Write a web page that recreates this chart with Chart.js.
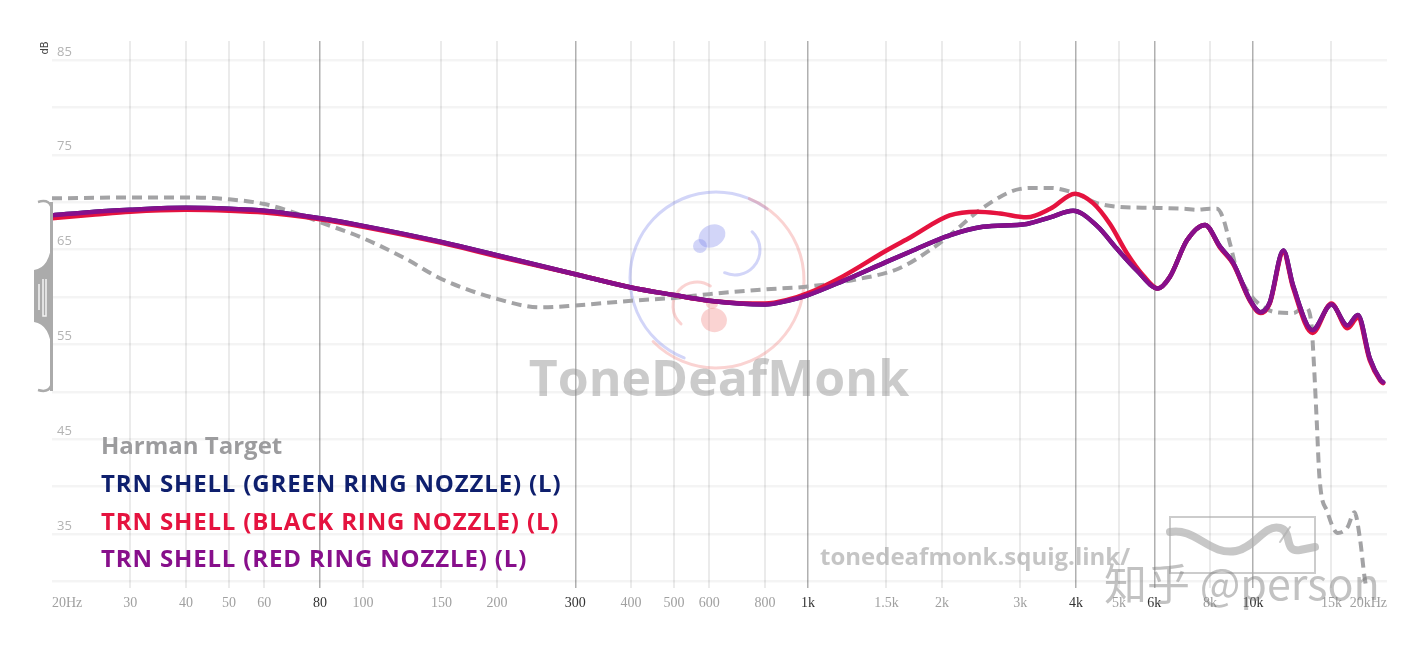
<!DOCTYPE html>
<html><head><meta charset="utf-8">
<script src="https://cdn.jsdelivr.net/npm/chart.js@4/dist/chart.umd.min.js"></script>
<style>html,body{margin:0;padding:0;background:#fff;overflow:hidden}</style>
</head><body>
<canvas id="c" width="1414" height="646"></canvas>
<script>
// ---------- DATA ----------
const harmanFreq = [20,30,40,50,60,70,80,100,125,150,200,250,300,400,500,600,800,1000,1300,1600,1900,2080,2470,3000,3270,3500,4000,4460,5000,6000,7000,7500,8000,8300,8550,8880,9200,9700,10300,11200,12300,13100,13500,13700,13900,14100,14700,15500,16300,16900,17400,17800,18100];
const harmanDb   = [70.4,70.5,70.5,70.3,69.8,68.9,67.9,66.2,64.0,61.9,59.8,58.9,59.1,59.6,59.9,60.3,60.8,61.1,61.9,63.0,65.1,66.5,69.4,71.4,71.5,71.5,70.9,69.9,69.5,69.4,69.3,69.2,69.3,69.3,68.4,65.6,62.8,60.7,59.3,58.4,58.3,58.9,57.5,53.0,47.0,41.0,37.3,35.1,35.7,37.3,34.4,30.5,28.5];

const blackFreq = [20,25,30,40,50,60,80,100,150,200,300,400,500,600,700,800,900,1000,1200,1500,1700,2080,2400,2700,3100,3500,3980,4370,4770,5210,5660,6110,6500,7110,7800,8430,9020,9840,10400,10900,11700,12300,13600,15000,16300,17200,18300,19300,19600];
const blackDb   = [68.3,68.7,69.0,69.2,69.1,68.9,68.2,67.4,65.7,64.3,62.4,61.0,60.2,59.6,59.35,59.3,59.7,60.4,62.2,64.9,66.3,68.6,69.0,68.8,68.4,69.3,70.9,69.9,67.7,64.6,62.3,60.9,62.1,66.0,67.6,65.2,63.5,59.6,58.3,59.3,64.7,61.0,56.2,59.3,56.7,57.8,53.3,51.2,50.9];

const redFreq = [20,25,30,40,50,60,80,100,150,200,300,400,500,600,700,800,900,1000,1200,1500,1700,2080,2470,3100,3500,3940,4460,4940,5480,6110,6500,7110,7800,8430,9020,9840,10400,10900,11700,12300,13600,15000,16300,17200,18300,19300,19600];
const redDb   = [68.6,69.0,69.2,69.4,69.3,69.1,68.3,67.5,65.8,64.4,62.4,61.0,60.2,59.6,59.3,59.2,59.6,60.2,61.7,63.7,64.8,66.5,67.4,67.7,68.4,69.1,67.5,65.1,62.8,60.9,62.1,66.0,67.6,65.3,63.6,59.7,58.4,59.4,64.9,61.2,56.5,59.2,57.0,58.1,53.5,51.3,51.0];

const greenFreq = [20,25,30,40,50,60,80,100,150,200,300,400,500,600,700,800,900,1000,1200,1500,1700,2080,2470,3100,3500,3940,4460,4940,5480,6110,6500,7110,7800,8430,9020,9840,10400,10900,11700,12300,13600,15000,16300,17200,18300,19300,19600];
const greenDb   = [68.6,69.0,69.2,69.4,69.3,69.1,68.3,67.5,65.8,64.4,62.4,61.0,60.2,59.6,59.3,59.2,59.6,60.2,61.7,63.7,64.8,66.5,67.4,67.7,68.4,69.1,67.5,65.1,62.8,60.9,62.1,66.0,67.6,65.3,63.6,59.7,58.4,59.4,64.9,61.2,56.5,59.2,57.0,58.1,53.5,51.3,51.0];

const seriesLabels = ['Harman Target','TRN SHELL (GREEN RING NOZZLE) (L)','TRN SHELL (BLACK RING NOZZLE) (L)','TRN SHELL (RED RING NOZZLE) (L)'];
const seriesColors = ['#9c9c9e','#0e1f6d','#e5133f','#870f8b'];

const xTickValues = [20,30,40,50,60,80,100,150,200,300,400,500,600,800,1000,1500,2000,3000,4000,5000,6000,8000,10000,15000,20000];
const xTickLabels = ['20Hz','30','40','50','60','80','100','150','200','300','400','500','600','800','1k','1.5k','2k','3k','4k','5k','6k','8k','10k','15k','20kHz'];
const xMajorTicks = [80,300,1000,4000,6000,10000];
const yTickValues = [30,35,40,45,50,55,60,65,70,75,80,85];
const yTickLabels = ['','35','','45','','55','','65','','75','','85'];

// ---------- helpers ----------
const pts = (f, d) => f.map((v, i) => ({x: v, y: d[i]}));

const decor = {
  id: 'decor',
  beforeDatasetsDraw(chart) {
    const ctx = chart.ctx;
    ctx.save();
    // TDM logo spirals
    ctx.lineWidth = 3;
    ctx.lineCap = 'round';
    ctx.strokeStyle = 'rgba(125,135,235,0.35)';
    ctx.beginPath();
    ctx.arc(716, 278, 86, 1.95, 5.35, false);
    ctx.stroke();
    ctx.beginPath();
    ctx.arc(735, 250, 25, -0.82, 2.0, false);
    ctx.stroke();
    ctx.strokeStyle = 'rgba(240,130,125,0.35)';
    ctx.beginPath();
    ctx.arc(716, 280, 88, 5.1, 8.65, false);
    ctx.stroke();
    ctx.beginPath();
    ctx.arc(697, 306, 24, 2.3, 5.3, false);
    ctx.stroke();
    // little headphone blobs
    ctx.fillStyle = 'rgba(125,135,235,0.35)';
    ctx.beginPath(); ctx.ellipse(712, 236, 14, 11, -0.5, 0, Math.PI*2); ctx.fill();
    ctx.beginPath(); ctx.ellipse(700, 246, 7, 7, 0, 0, Math.PI*2); ctx.fill();
    ctx.fillStyle = 'rgba(240,130,125,0.35)';
    ctx.beginPath(); ctx.ellipse(714, 320, 13, 12, 0.3, 0, Math.PI*2); ctx.fill();
    ctx.beginPath(); ctx.ellipse(712, 304, 6, 5, 0, 0, Math.PI*2); ctx.fill();
    // ToneDeafMonk text
    ctx.fillStyle = 'rgba(140,140,140,0.45)';
    ctx.font = 'bold 50px "Open Sans"';
    ctx.textAlign = 'center';
    ctx.textBaseline = 'middle';
    ctx.fillText('ToneDeafMonk', 719, 382);
    ctx.font = 'bold 24px "Open Sans"';
    ctx.textAlign = 'left';
    ctx.fillStyle = 'rgba(150,150,150,0.55)';
    ctx.fillText('tonedeafmonk.squig.link/', 820, 558);
    // squiglink box logo
    ctx.strokeStyle = 'rgba(170,170,170,0.6)';
    ctx.lineWidth = 2;
    ctx.strokeRect(1170, 517, 145, 56);
    ctx.strokeStyle = 'rgba(175,175,175,0.7)';
    ctx.lineWidth = 8;
    ctx.beginPath();
    ctx.moveTo(1170, 532);
    ctx.bezierCurveTo(1195, 527, 1210, 556, 1236, 551);
    ctx.bezierCurveTo(1256, 547, 1264, 524, 1280, 528);
    ctx.bezierCurveTo(1293, 531, 1283, 553, 1300, 550);
    ctx.lineTo(1315, 547);
    ctx.stroke();
    ctx.lineWidth = 2;
    ctx.beginPath(); ctx.moveTo(1280, 542); ctx.lineTo(1290, 527); ctx.stroke();
    ctx.restore();
  },
  afterDraw(chart) {
    const ctx = chart.ctx;
    ctx.save();
    // left volume bracket
    ctx.fillStyle = '#ababab';
    ctx.fillRect(50, 202, 3, 189);
    ctx.strokeStyle = '#ababab';
    ctx.lineWidth = 2.5;
    ctx.beginPath(); ctx.moveTo(38, 202); ctx.quadraticCurveTo(48, 199, 51, 206); ctx.stroke();
    ctx.beginPath(); ctx.moveTo(38, 390); ctx.quadraticCurveTo(48, 393, 51, 386); ctx.stroke();
    ctx.beginPath();
    ctx.moveTo(52, 240);
    ctx.quadraticCurveTo(50, 268, 34, 270);
    ctx.lineTo(34, 322);
    ctx.quadraticCurveTo(50, 324, 52, 352);
    ctx.closePath();
    ctx.fill();
    ctx.strokeStyle = '#f4f4f4';
    ctx.lineWidth = 1.5;
    ctx.beginPath(); ctx.moveTo(39, 284); ctx.lineTo(39, 310); ctx.stroke();
    ctx.beginPath(); ctx.moveTo(43, 279); ctx.lineTo(43, 316); ctx.lineTo(46, 316); ctx.lineTo(46, 279); ctx.stroke();
    // dB label
    ctx.save();
    ctx.translate(45, 48);
    ctx.rotate(-Math.PI / 2);
    ctx.fillStyle = '#444';
    ctx.font = '10px "DejaVu Sans"';
    ctx.textAlign = 'center';
    ctx.textBaseline = 'middle';
    ctx.fillText('dB', 0, 0);
    ctx.restore();
    // legend
    const baselines = [454, 492, 529.5, 567];
    ctx.font = 'bold 24px "Open Sans"';
    ctx.textAlign = 'left';
    ctx.textBaseline = 'alphabetic';
    seriesLabels.forEach((t, i) => {
      ctx.letterSpacing = i === 0 ? '0px' : '0.85px';
      ctx.fillStyle = seriesColors[i];
      ctx.fillText(t, 101, baselines[i]);
    });
    ctx.letterSpacing = '0px';
    // zhihu watermark
    ctx.font = '43px "Noto Sans CJK SC"';
    ctx.fillStyle = 'rgba(120,120,120,0.45)';
    ctx.textBaseline = 'middle';
    ctx.fillText('知乎 @person', 1104, 584);
    ctx.restore();
  }
};

const ds = (label, data, color, extra) => Object.assign({
  label, data, borderColor: color, backgroundColor: color,
  borderWidth: 4.5, pointRadius: 0, fill: false,
  cubicInterpolationMode: 'monotone', borderCapStyle: 'round', borderJoinStyle: 'round'
}, extra || {});

new Chart(document.getElementById('c'), {
  type: 'line',
  data: {
    datasets: [
      ds(seriesLabels[3], pts(redFreq, redDb), seriesColors[3], {order: 0}),
      ds(seriesLabels[2], pts(blackFreq, blackDb), seriesColors[2], {order: 1}),
      ds(seriesLabels[1], pts(greenFreq, greenDb), seriesColors[1], {order: 2}),
      ds(seriesLabels[0], pts(harmanFreq, harmanDb), '#a3a3a5', {order: 3, borderWidth: 4, borderDash: [10, 6], borderCapStyle: 'butt'})
    ]
  },
  options: {
    responsive: false,
    animation: false,
    devicePixelRatio: 1,
    layout: {padding: {left: 52, right: 27, top: 41, bottom: 0}},
    plugins: {legend: {display: false}, tooltip: {enabled: false}},
    scales: {
      x: {
        type: 'logarithmic', min: 20, max: 20000,
        afterBuildTicks: s => { s.ticks = xTickValues.map(v => ({value: v})); },
        afterFit: s => { s.height = 58; },
        border: {display: false},
        grid: {
          drawTicks: false,
          color: c => (c.tick && (c.tick.value === 20 || c.tick.value === 20000)) ? 'rgba(0,0,0,0)' :
                      (c.tick && xMajorTicks.includes(c.tick.value) ? '#b0b0b0' : '#ebebeb'),
          lineWidth: c => (c.tick && xMajorTicks.includes(c.tick.value)) ? 1.5 : 2
        },
        ticks: {
          autoSkip: false, maxRotation: 0, minRotation: 0, align: 'inner', padding: 7,
          callback: (v, i) => xTickLabels[i],
          color: c => xMajorTicks.includes(c.tick.value) ? '#333' : '#a0a0a0',
          font: {family: '"Liberation Serif"', size: 14}
        }
      },
      y: {
        type: 'linear', min: 29.3, max: 87,
        afterBuildTicks: s => { s.ticks = yTickValues.map(v => ({value: v})); },
        afterFit: s => { s.width = 0; },
        border: {display: false},
        grid: {drawTicks: false, color: 'rgba(0,0,0,0.045)', lineWidth: 2.5},
        ticks: {
          mirror: true, padding: 5, labelOffset: -8,
          callback: (v, i) => yTickLabels[i],
          color: '#b3b3b3',
          font: {family: '"Open Sans"', size: 13}
        }
      }
    }
  },
  plugins: [decor]
});
</script>
</body></html>
